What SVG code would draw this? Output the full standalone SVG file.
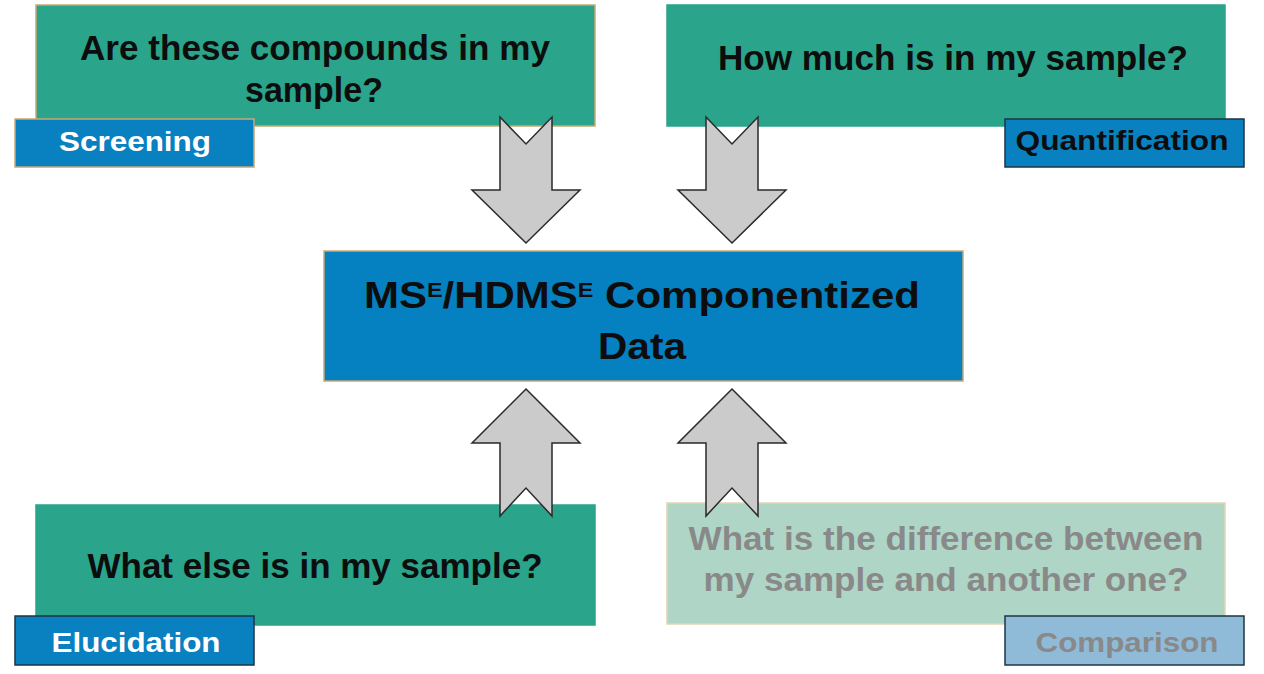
<svg xmlns="http://www.w3.org/2000/svg" width="1264" height="674" viewBox="0 0 1264 674">
<style>
.q{fill:#2aa48a;stroke:#c9a874;stroke-width:1.5}
.ql{fill:#afd5c6;stroke:#e3d3b4;stroke-width:1.5}
.tag{fill:#0980c0;stroke:#c9a874;stroke-width:1.5}
.tagd{fill:#0980c0;stroke:#1c3544;stroke-width:1.5}
.tagl{fill:#8fbbd9;stroke:#1c3544;stroke-width:1.5}
.core{fill:#0581c1;stroke:#c9a874;stroke-width:1.5}
.arr{fill:#cbcbcb;stroke:#2a2a2a;stroke-width:1.5;stroke-linejoin:miter}
text{font-family:"Liberation Sans",Arial,sans-serif;font-weight:bold;text-anchor:middle}
.t1{font-size:35px;fill:#0d0d0d}
.t1g{font-size:33px;fill:#898989}
.t2{font-size:28px;fill:#ffffff}
.t2k{font-size:28px;fill:#0d0d0d}
.t2g{font-size:28px;fill:#898989}
.t3{font-size:36px;fill:#0d0d0d}
</style>
<rect width="1264" height="674" fill="#ffffff"/>
<g id="screening-question">
<rect class="q" x="36" y="5" width="559" height="121"/>
<text class="t1" x="315" y="60" textLength="470" lengthAdjust="spacingAndGlyphs">Are these compounds in my</text>
<text class="t1" x="314" y="102" textLength="138" lengthAdjust="spacingAndGlyphs">sample?</text>
</g>
<g id="screening">
<rect class="tag" x="15" y="119" width="239" height="48"/>
<text class="t2" x="135" y="151" textLength="152" lengthAdjust="spacingAndGlyphs">Screening</text>
</g>
<g id="quantification-question">
<rect class="q" x="667" y="5" width="558" height="121" style="stroke:#2aa48a"/>
<text class="t1" x="953" y="70" textLength="470" lengthAdjust="spacingAndGlyphs">How much is in my sample?</text>
</g>
<g id="quantification">
<rect class="tagd" x="1005" y="119" width="239" height="48"/>
<text class="t2k" x="1122" y="150" textLength="213" lengthAdjust="spacingAndGlyphs">Quantification</text>
</g>
<g id="core">
<rect class="core" x="324" y="251" width="639" height="130"/>
<text class="t3" x="642" y="308" textLength="556" lengthAdjust="spacingAndGlyphs">MS<tspan font-size="20" dy="-11">E</tspan><tspan dy="11">/HDMS</tspan><tspan font-size="20" dy="-11">E</tspan><tspan dy="11"> Componentized</tspan></text>
<text class="t3" x="642" y="359" textLength="88" lengthAdjust="spacingAndGlyphs">Data</text>
</g>
<g id="elucidation-question">
<rect class="q" x="36" y="505" width="559" height="120" style="stroke:#2aa48a"/>
<text class="t1" x="315" y="578" textLength="455" lengthAdjust="spacingAndGlyphs">What else is in my sample?</text>
</g>
<g id="elucidation">
<rect class="tagd" x="15" y="616" width="239" height="49"/>
<text class="t2" x="136" y="652" textLength="169" lengthAdjust="spacingAndGlyphs">Elucidation</text>
</g>
<g id="comparison-question">
<rect class="ql" x="667" y="503" width="558" height="121"/>
<text class="t1g" x="946" y="550" textLength="515" lengthAdjust="spacingAndGlyphs">What is the difference between</text>
<text class="t1g" x="946" y="591" textLength="485" lengthAdjust="spacingAndGlyphs">my sample and another one?</text>
</g>
<g id="comparison">
<rect class="tagl" x="1005" y="616" width="239" height="49"/>
<text class="t2g" x="1127" y="652" textLength="183" lengthAdjust="spacingAndGlyphs">Comparison</text>
</g>
<g id="connectors">
<path class="arr" d="M500,117 L526,144 L552,117 L552,190 L580,190 L526,243 L472,190 L500,190 Z"/>
<path class="arr" d="M706,117 L732,144 L758,117 L758,190 L786,190 L732,243 L678,190 L706,190 Z"/>
<path class="arr" d="M526,389 L580,443 L552,443 L552,516 L526,488 L500,516 L500,443 L472,443 Z"/>
<path class="arr" d="M732,389 L786,443 L758,443 L758,516 L732,488 L706,516 L706,443 L678,443 Z"/>
</g>
</svg>
